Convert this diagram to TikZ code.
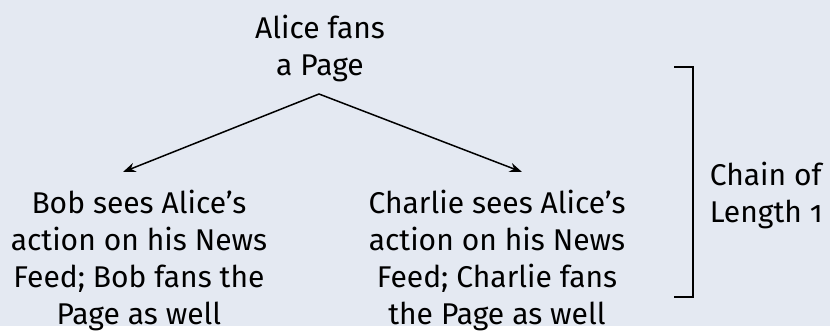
\documentclass[tikz,border=0pt]{standalone}
\usepackage{fontspec}
\setmainfont{Fira Sans}[Numbers=OldStyle]
\usepackage{tikz}
\usetikzlibrary{arrows.meta,positioning,calc}
\definecolor{bgblue}{RGB}{228,233,242}

\begin{document}
\begin{tikzpicture}[x=0.5pt, y=0.5pt, line width=0.75pt, every node/.style={font=\fontsize{15}{18.5}\selectfont, align=center, inner sep=0pt}]
\fill[bgblue] (0,0) rectangle (830,326);
\node (alice)   at (320,278) {Alice fans\\a Page};
\node (bob)     at (139, 66) {Bob sees Alice's\\action on his News\\Feed; Bob fans the\\Page as well};
\node (charlie) at (497, 66) {Charlie sees Alice's\\action on his News\\Feed; Charlie fans\\the Page as well};
\node[align=left, anchor=west] (chain) at (709,131) {Chain of\\Length 1};
\coordinate (fork)      at (319,232);
\coordinate (bobin)     at (123,154);
\coordinate (charliein) at (522,154);
\draw[-{Stealth[length=2.2mm]}] (fork) -- (bobin);
\draw[-{Stealth[length=2.2mm]}] (fork) -- (charliein);
\draw (674,259) -- (693,259) -- (693,29) -- (674,29);
\end{tikzpicture}
\end{document}
